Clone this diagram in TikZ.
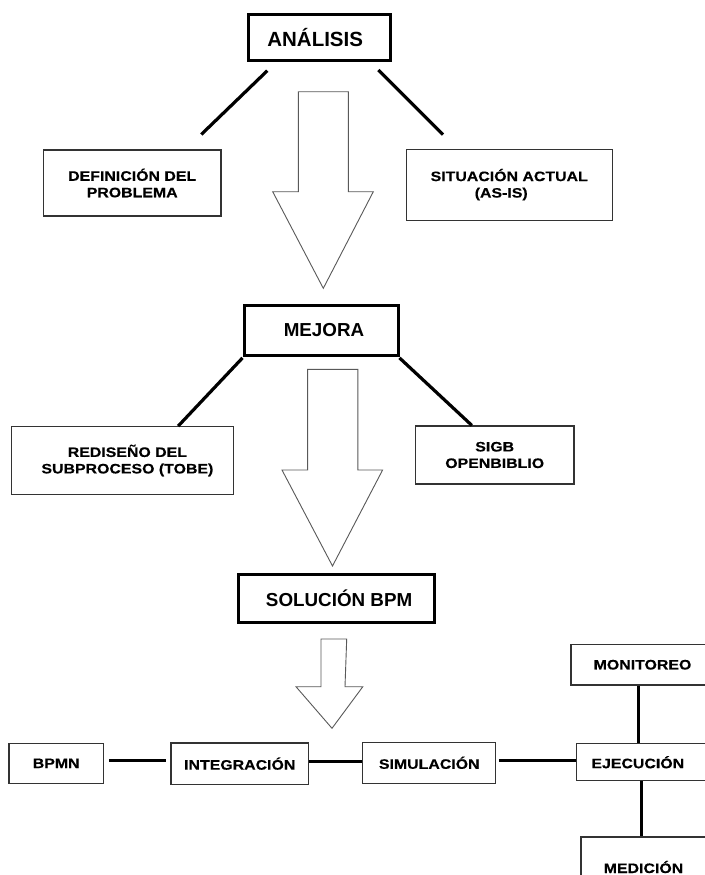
\documentclass[tikz,border=0pt]{standalone}
\usepackage{fontspec}
\setmainfont{Liberation Sans}
\newfontfamily\lblfont[FakeStretch=1.16,FakeBold=0.4]{Liberation Sans Bold}
\newfontfamily\headfont{Liberation Sans Bold}
\begin{document}
\begin{tikzpicture}[x=1pt,y=-1pt,
  box/.style={draw=black!80, line width=1.2pt, fill=white, inner sep=0pt,
    align=center, text=black, font=\lblfont\fontsize{13.7}{16.5}\selectfont},
  headbox/.style={draw=black, line width=3pt, fill=white, inner sep=0pt,
    align=center, text=black, font=\headfont\fontsize{18.8}{22}\selectfont},
  link/.style={draw=black, line width=3.2pt},
  hollow/.style={draw=black!65, line width=0.9pt, line join=miter}]
\useasboundingbox[fill=white] (0,0) rectangle (704,875);

% main stages
\node[headbox, minimum width=142pt, minimum height=46pt,
  font=\headfont\fontsize{20.5}{24}\selectfont] (analisis) at (319.2,37.2) {\hspace*{-8pt}ANÁLISIS};
\node[headbox, minimum width=154pt, minimum height=50pt] (mejora) at (321,330.4) {\hspace*{6pt}MEJORA};
\node[headbox, minimum width=196pt, minimum height=48pt] (solucion) at (336.1,598) {\hspace*{6pt}SOLUCIÓN BPM};

% analysis branches
\node[box, minimum width=177.7pt, minimum height=66pt] (definicion) at (132.2,183) {DEFINICIÓN DEL\\PROBLEMA};
\node[box, minimum width=206pt, minimum height=71pt] (situacion) at (509.2,184.7) {SITUACIÓN ACTUAL\\(AS-IS)\hspace*{16pt}};

% improvement branches
\node[box, minimum width=222.3pt, minimum height=67.6pt] (rediseno) at (122.4,460.5) {\hspace*{10pt}REDISEÑO DEL\\\hspace*{10pt}SUBPROCESO (TOBE)};
\node[box, minimum width=158.5pt, minimum height=58pt] (sigb) at (494.7,455) {SIGB\\OPENBIBLIO};

% BPM life cycle
\node[box, minimum width=94.3pt, minimum height=40pt] (bpmn) at (56.2,763.3) {BPMN};
\node[box, minimum width=137.5pt, minimum height=41.3pt] (integracion) at (239.75,763.65) {INTEGRACIÓN};
\node[box, minimum width=132.9pt, minimum height=41pt] (simulacion) at (429.25,762.8) {SIMULACIÓN};
\node[box, minimum width=129.4pt, minimum height=37pt] (ejecucion) at (641.3,762.2) {\hspace*{-7pt}EJECUCIÓN};
\node[box, minimum width=135pt, minimum height=40.5pt] (monitoreo) at (638.5,664.75) {\hspace*{8pt}MONITOREO};
\node[box, minimum width=125pt, minimum height=60pt] (medicion) at (643.5,867) {MEDICIÓN};

% branch lines
\draw[link] ([xshift=20.6pt,yshift=-9pt]analisis.south west) -- ([xshift=-20.3pt,yshift=15pt]definicion.north east);
\draw[link] ([xshift=-13.4pt,yshift=-8.3pt]analisis.south east) -- ([xshift=37.3pt,yshift=14pt]situacion.north west);
\draw[link] ([yshift=-1pt]mejora.south west) -- ([xshift=167.5pt]rediseno.north west);
\draw[link] ([yshift=-1pt]mejora.south east) -- ([xshift=57pt]sigb.north west);

% cycle links
\draw[link, line width=3pt, shorten <=5.5pt, shorten >=4pt] ([yshift=3pt]bpmn.east) -- ([yshift=3pt]bpmn.east -| integracion.west);
\draw[link, line width=3pt] ([yshift=2pt]integracion.east) -- ([yshift=2pt]integracion.east -| simulacion.west);
\draw[link, line width=3pt, shorten <=2.5pt] ([yshift=2pt]simulacion.east) -- ([yshift=2pt]simulacion.east -| ejecucion.west);
\draw[link, line width=3pt] (monitoreo.south) -- (monitoreo.south |- ejecucion.north);
\draw[link, line width=3pt] ([xshift=0.5pt]ejecucion.south) -- ([xshift=0.5pt]ejecucion.south |- medicion.north);

% hollow flow arrows between stages
\draw[hollow] (298.3,91.7) -- (348.3,91.7) -- (348.3,191.7) -- (373.3,191.7)
  -- (323.3,288.3) -- (272.7,191.7) -- (298.3,191.7) -- cycle;
\draw[hollow] (307.6,369.3) -- (357.9,369.3) -- (357.9,470) -- (382.6,470)
  -- (332.5,566) -- (282,470) -- (307.6,470) -- cycle;
\draw[hollow] (321,639) -- (346.7,639) -- (345,686.7) -- (362.8,686.7)
  -- (332,728.3) -- (296,686.7) -- (321,686.7) -- cycle;
\end{tikzpicture}
\end{document}
